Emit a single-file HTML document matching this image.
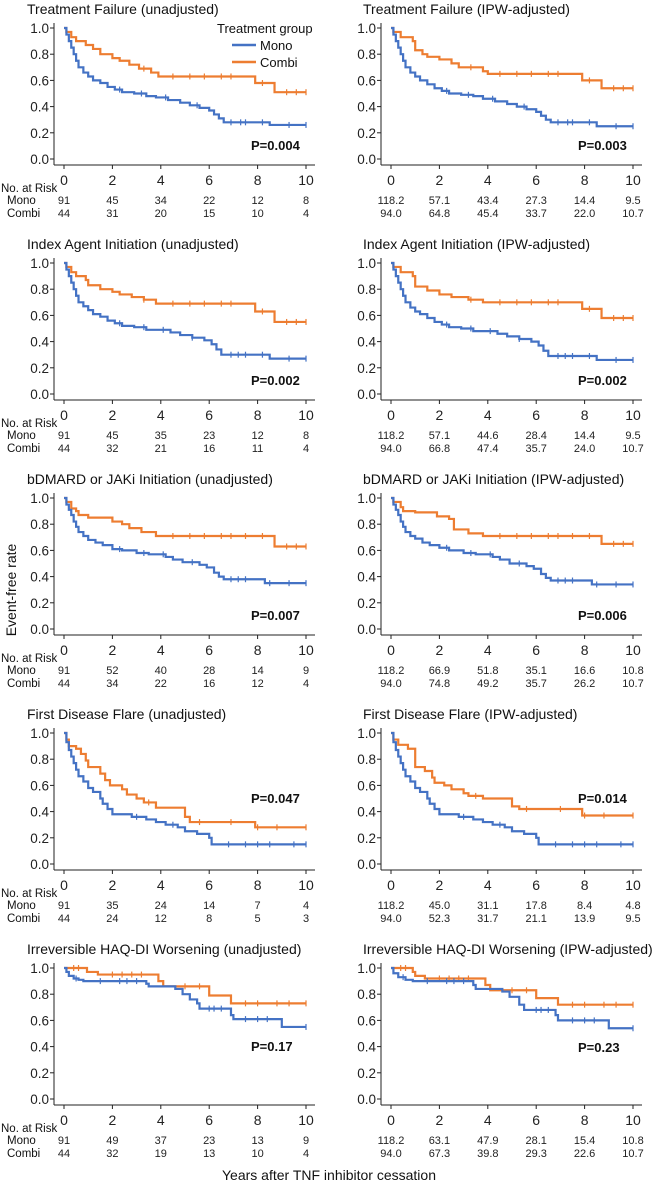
<!DOCTYPE html>
<html><head><meta charset="utf-8">
<style>
html,body{margin:0;padding:0;background:#fff;}
svg{display:block;font-family:"Liberation Sans","DejaVu Sans",sans-serif;}
</style></head>
<body>
<svg id="chart" width="658" height="1181" viewBox="0 0 658 1181" xmlns="http://www.w3.org/2000/svg">
<text x="0" y="0" transform="translate(16,590) rotate(-90)" text-anchor="middle" font-size="14" fill="#111">Event-free rate</text>
<text x="329" y="1180" text-anchor="middle" font-size="14" fill="#111">Years after TNF inhibitor cessation</text>
<g>
<text x="217" y="33" font-size="13" fill="#111">Treatment group</text>
<line x1="232" y1="45" x2="256" y2="45" stroke="#4472C4" stroke-width="2.5"/>
<text x="260" y="50" font-size="13" fill="#111">Mono</text>
<line x1="232" y1="62" x2="256" y2="62" stroke="#ED7D31" stroke-width="2.5"/>
<text x="260" y="67" font-size="13" fill="#111">Combi</text>
</g>
</svg>
<script>
const xTicks = [0,2,4,6,8,10];
const yTicks = [0.0,0.2,0.4,0.6,0.8,1.0];
const titles = ["Treatment Failure (unadjusted)","Treatment Failure (IPW-adjusted)","Index Agent Initiation (unadjusted)","Index Agent Initiation (IPW-adjusted)","bDMARD or JAKi Initiation (unadjusted)","bDMARD or JAKi Initiation (IPW-adjusted)","First Disease Flare (unadjusted)","First Disease Flare (IPW-adjusted)","Irreversible HAQ-DI Worsening (unadjusted)","Irreversible HAQ-DI Worsening (IPW-adjusted)"];
const pValues = ["P=0.004","P=0.003","P=0.002","P=0.002","P=0.007","P=0.006","P=0.047","P=0.014","P=0.17","P=0.23"];
const riskMono = [["91","45","34","22","12","8"],["118.2","57.1","43.4","27.3","14.4","9.5"],["91","45","35","23","12","8"],["118.2","57.1","44.6","28.4","14.4","9.5"],["91","52","40","28","14","9"],["118.2","66.9","51.8","35.1","16.6","10.8"],["91","35","24","14","7","4"],["118.2","45.0","31.1","17.8","8.4","4.8"],["91","49","37","23","13","9"],["118.2","63.1","47.9","28.1","15.4","10.8"]];
const riskCombi = [["44","31","20","15","10","4"],["94.0","64.8","45.4","33.7","22.0","10.7"],["44","32","21","16","11","4"],["94.0","66.8","47.4","35.7","24.0","10.7"],["44","34","22","16","12","4"],["94.0","74.8","49.2","35.7","26.2","10.7"],["44","24","12","8","5","3"],["94.0","52.3","31.7","21.1","13.9","9.5"],["44","32","19","13","10","4"],["94.0","67.3","39.8","29.3","22.6","10.7"]];

const monoTimes = [
[0.1,0.2,0.3,0.4,0.5,0.6,0.8,1.0,1.2,1.5,1.8,2.1,2.4,2.9,3.4,3.8,4.3,4.8,5.2,5.6,6.0,6.2,6.4,6.6,8.5],
[0.1,0.2,0.3,0.4,0.5,0.6,0.8,1.0,1.2,1.5,1.8,2.1,2.4,2.9,3.4,3.8,4.3,4.8,5.2,5.6,6.0,6.2,6.4,6.6,8.5],
[0.1,0.2,0.3,0.4,0.5,0.6,0.8,1.0,1.2,1.5,1.8,2.1,2.4,2.9,3.4,4.4,4.8,5.3,5.8,6.1,6.3,6.5,8.5],
[0.1,0.2,0.3,0.4,0.5,0.6,0.8,1.0,1.2,1.5,1.8,2.1,2.4,2.9,3.4,4.4,4.8,5.3,5.8,6.1,6.3,6.5,8.5],
[0.1,0.2,0.3,0.4,0.5,0.6,0.8,1.0,1.3,1.6,2.0,2.4,3.0,3.5,4.2,4.5,4.9,5.6,5.9,6.2,6.4,6.6,8.3],
[0.1,0.2,0.3,0.4,0.5,0.6,0.8,1.0,1.3,1.6,2.0,2.4,3.0,3.5,4.2,4.5,4.9,5.6,5.9,6.2,6.4,6.6,8.3],
[0.1,0.2,0.3,0.4,0.5,0.6,0.8,1.0,1.2,1.5,1.6,1.8,2.0,2.8,3.4,3.8,4.2,4.7,5.0,5.5,6.0,6.1],
[0.1,0.2,0.3,0.4,0.5,0.6,0.8,1.0,1.2,1.5,1.6,1.8,2.0,2.8,3.4,3.8,4.2,4.7,5.0,5.5,6.0,6.1],
[0.1,0.2,0.4,0.6,0.8,3.4,3.5,4.6,4.9,5.2,5.5,5.6,6.9,7.0,9.0],
[0.1,0.3,0.6,0.9,3.4,3.5,4.6,4.9,5.3,5.5,6.8,6.9,9.0]];
const monoSurv = [
[0.95,0.90,0.85,0.80,0.75,0.70,0.66,0.63,0.60,0.58,0.55,0.53,0.51,0.50,0.48,0.47,0.45,0.43,0.41,0.39,0.37,0.34,0.31,0.28,0.26],
[0.95,0.90,0.85,0.80,0.75,0.70,0.66,0.63,0.60,0.57,0.54,0.52,0.50,0.49,0.48,0.46,0.44,0.42,0.40,0.38,0.36,0.33,0.30,0.28,0.25],
[0.95,0.90,0.85,0.80,0.75,0.70,0.67,0.64,0.61,0.59,0.56,0.54,0.52,0.51,0.49,0.47,0.45,0.43,0.41,0.38,0.34,0.30,0.27],
[0.95,0.90,0.85,0.80,0.75,0.70,0.66,0.63,0.61,0.58,0.55,0.53,0.51,0.50,0.48,0.46,0.44,0.42,0.40,0.37,0.33,0.29,0.26],
[0.95,0.91,0.87,0.82,0.78,0.74,0.71,0.68,0.66,0.64,0.61,0.60,0.58,0.57,0.55,0.53,0.51,0.49,0.47,0.43,0.40,0.38,0.35],
[0.95,0.91,0.87,0.82,0.78,0.74,0.71,0.69,0.66,0.64,0.62,0.60,0.58,0.57,0.55,0.53,0.50,0.48,0.46,0.42,0.39,0.37,0.34],
[0.93,0.87,0.82,0.77,0.72,0.67,0.63,0.58,0.55,0.50,0.46,0.42,0.38,0.36,0.34,0.32,0.30,0.28,0.25,0.23,0.20,0.15],
[0.93,0.87,0.82,0.77,0.72,0.67,0.63,0.58,0.55,0.50,0.46,0.42,0.38,0.36,0.34,0.32,0.30,0.28,0.25,0.23,0.20,0.15],
[0.97,0.94,0.92,0.91,0.90,0.88,0.86,0.84,0.80,0.76,0.73,0.69,0.64,0.61,0.55],
[0.96,0.93,0.91,0.90,0.87,0.84,0.82,0.78,0.72,0.68,0.64,0.60,0.54]];
const combiTimes = [
[0.1,0.3,0.5,0.9,1.2,1.5,2.0,2.3,2.7,3.1,3.6,3.9,7.9,8.7],
[0.1,0.4,0.9,1.0,1.3,1.5,2.0,2.5,2.8,3.8,4.0,7.9,8.7],
[0.1,0.3,0.5,0.9,1.0,1.5,2.0,2.3,2.8,3.3,3.8,7.9,8.7],
[0.1,0.4,0.9,1.0,1.5,2.0,2.5,3.2,3.8,7.9,8.7],
[0.1,0.3,0.5,0.6,1.0,2.0,2.4,2.7,3.2,3.8,8.7],
[0.1,0.4,0.5,1.0,1.9,2.4,2.6,3.2,3.8,8.7],
[0.1,0.2,0.5,0.7,0.9,1.0,1.5,1.7,1.9,2.4,2.6,3.0,3.3,3.8,5.0,5.2,7.9],
[0.1,0.3,0.7,1.0,1.4,1.7,1.8,2.2,2.5,3.0,3.2,3.8,5.0,5.3,7.9],
[0.95,1.4,3.9,4.1,6.0,6.9],
[0.9,1.0,1.4,3.9,4.1,6.0,6.9]];
const combiSurv = [
[0.97,0.93,0.90,0.87,0.84,0.80,0.77,0.75,0.72,0.69,0.66,0.63,0.58,0.51],
[0.97,0.93,0.90,0.83,0.80,0.78,0.76,0.73,0.70,0.67,0.65,0.60,0.54],
[0.97,0.93,0.90,0.87,0.83,0.80,0.78,0.76,0.74,0.72,0.69,0.63,0.55],
[0.97,0.93,0.90,0.82,0.79,0.76,0.74,0.72,0.70,0.65,0.58],
[0.97,0.92,0.90,0.87,0.85,0.82,0.80,0.77,0.74,0.71,0.63],
[0.97,0.93,0.90,0.89,0.86,0.84,0.76,0.73,0.71,0.65],
[0.95,0.90,0.88,0.84,0.79,0.74,0.69,0.64,0.60,0.57,0.53,0.50,0.47,0.43,0.36,0.32,0.28],
[0.95,0.91,0.88,0.74,0.71,0.66,0.62,0.60,0.57,0.54,0.52,0.50,0.44,0.42,0.37],
[0.97,0.95,0.90,0.86,0.79,0.73],
[0.97,0.94,0.92,0.87,0.83,0.77,0.72]];
const monoCensor = [
[2.3,3.2,4.2,5.5,6.9,7.3,7.5,8.2,9.3,10],[2.3,3.2,4.2,5.5,6.9,7.3,7.5,8.2,9.3,10],
[2.3,3.3,4.1,5.3,6.9,7.2,7.5,8.2,9.3,10],[2.3,3.3,4.1,5.3,6.9,7.2,7.5,8.2,9.3,10],
[2.3,3.3,4.1,5.3,6.9,7.2,7.5,8.5,9.3,10],[2.3,3.3,4.1,5.3,6.9,7.2,7.5,8.5,9.3,10],
[3.0,4.5,6.8,7.5,8.0,8.5,9.5,10],[3.0,4.5,6.8,7.5,8.0,8.5,9.5,10],
[0.5,1.5,2.3,2.6,3.0,6.0,6.2,6.5,7.5,8.0,8.4,10],[0.5,1.5,2.3,2.6,3.0,6.0,6.2,6.5,7.5,8.0,8.4,10]];
const combiCensor = [
[3.3,4.5,5.2,5.8,6.5,6.9,8.2,9.2,9.6,10],[3.3,4.5,5.2,5.8,6.5,6.9,8.2,9.2,9.6,10],
[3.3,4.5,5.2,5.8,6.5,6.9,8.2,9.2,9.6,10],[3.3,4.5,5.2,5.8,6.5,6.9,8.2,9.2,9.6,10],
[4.5,5.2,5.8,6.5,6.9,7.5,8.2,9.2,9.6,10],[4.5,5.2,5.8,6.5,6.9,7.5,8.2,9.2,9.6,10],
[3.5,5.6,6.9,8.0,8.8,10],[3.5,5.6,7.0,8.0,8.8,10],
[0.4,0.6,2.0,2.4,2.8,3.2,5.0,5.6,7.5,8.0,8.8,9.3,10],[0.4,0.6,2.0,2.4,2.8,3.2,5.0,5.6,7.5,8.0,8.8,9.3,10]];
const pRelY = [145,145,145,145,145,145,93,93,106,107];

const svg = document.getElementById('chart');
const NS = 'http://www.w3.org/2000/svg';
function mk(tag, attrs, parent, text){
  const e = document.createElementNS(NS, tag);
  for (const k in attrs) e.setAttribute(k, attrs[k]);
  if (text !== undefined) e.textContent = text;
  parent.appendChild(e);
  return e;
}
for (let i = 0; i < 10; i++){
  const col = i % 2, row = Math.floor(i / 2);
  const ox = col * 327, oy = row * 235;
  const xs = t => ox + 64 + t * 24.2;
  const ys = s => oy + 159 - s * 131;
  const g = mk('g', {}, svg);
  
  
  const tt = mk('text', {x: ox + (col ? 36 : 27), y: oy + 14, 'font-size': 14, fill: '#111'}, g, titles[i]);
  
  
  const ya = mk('line', {x1: ox + 54, y1: oy + 23, x2: ox + 54, y2: oy + 165, stroke: '#222', 'stroke-width': 1}, g);
  
  
  const xa = mk('line', {x1: ox + 54, y1: oy + 165, x2: ox + 315, y2: oy + 165, stroke: '#222', 'stroke-width': 1}, g);
  
  
  yTicks.forEach(v => {
    mk('line', {x1: ox + 50, y1: ys(v), x2: ox + 54, y2: ys(v), stroke: '#222'}, g);
    const l = mk('text', {x: ox + 49, y: ys(v) + 5, 'text-anchor': 'end', 'font-size': 13.5, fill: '#222'}, g, v.toFixed(1));
    
    
  });
  xTicks.forEach((v, k) => {
    mk('line', {x1: xs(v), y1: oy + 165, x2: xs(v), y2: oy + 169, stroke: '#222'}, g);
    const l = mk('text', {x: xs(v), y: oy + 185, 'text-anchor': 'middle', 'font-size': 14, fill: '#222'}, g, String(v));
    
    
    const m = mk('text', {x: xs(v), y: oy + 204, 'text-anchor': 'middle', 'font-size': 11, fill: '#222'}, g, riskMono[i][k]);
    
    
    const c = mk('text', {x: xs(v), y: oy + 217, 'text-anchor': 'middle', 'font-size': 11, fill: '#222'}, g, riskCombi[i][k]);
    
    
  });
  if (col === 0){
    const a = mk('text', {x: 1, y: oy + 192, 'font-size': 11.5, fill: '#111'}, g, 'No. at Risk');
    
    
    const b = mk('text', {x: 7, y: oy + 204, 'font-size': 11.5, fill: '#111'}, g, 'Mono');
    
    
    const c = mk('text', {x: 7, y: oy + 217, 'font-size': 11.5, fill: '#111'}, g, 'Combi');
    
    
  }
  const series = [[combiTimes[i], combiSurv[i], combiCensor[i], '#ED7D31', 'combi'], [monoTimes[i], monoSurv[i], monoCensor[i], '#4472C4', 'mono']];
  series.forEach(([T, S, C, color, nm]) => {
    let d = 'M' + xs(0) + ' ' + ys(1);
    T.forEach((t, k) => { d += ' H' + xs(t) + ' V' + ys(S[k]); });
    d += ' H' + xs(10);
    const p = mk('path', {d: d, fill: 'none', stroke: color, 'stroke-width': 2.2}, g);
    
    
    const survAt = t => { let s = 1; T.forEach((tt, k) => { if (tt <= t) s = S[k]; }); return s; };
    C.forEach(t => {
      const cm = mk('line', {x1: xs(t), y1: ys(survAt(t)) - 3, x2: xs(t), y2: ys(survAt(t)) + 3, stroke: color, 'stroke-width': 1.2}, g);
      
      
    });
  });
  const pv = mk('text', {x: ox + 251, y: oy + pRelY[i] + 5, 'font-size': 13, 'font-weight': 'bold', fill: '#111'}, g, pValues[i]);
  
  
}
</script>
</body></html>
